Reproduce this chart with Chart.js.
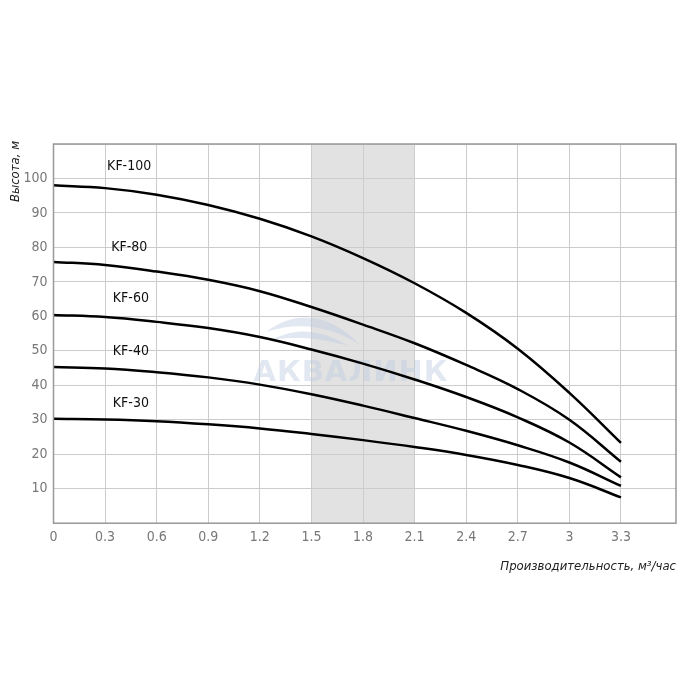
<!DOCTYPE html>
<html>
<head>
<meta charset="utf-8">
<script src="https://cdn.jsdelivr.net/npm/chart.js@4.4.1/dist/chart.umd.min.js"></script>
<style>
  html, body { margin: 0; padding: 0; background: #fff; }
  #wrap { width: 700px; height: 700px; }
</style>
</head>
<body>
<div id="wrap"><canvas id="myChart" width="700" height="700"></canvas></div>
<script>
// flow, m3/h
const flow = [0, 0.3, 0.6, 0.9, 1.2, 1.5, 1.8, 2.1, 2.4, 2.7, 3.0, 3.3];
const xTicks = [0, 0.3, 0.6, 0.9, 1.2, 1.5, 1.8, 2.1, 2.4, 2.7, 3, 3.3];
const yTicks = [10, 20, 30, 40, 50, 60, 70, 80, 90, 100];

// head, m
const names = ['KF-100', 'KF-80', 'KF-60', 'KF-40', 'KF-30'];
const kf100 = [98, 97.2, 95.3, 92.3, 88.3, 83.2, 76.9, 69.6, 61.0, 50.6, 37.8, 23.3];
const kf80 = [75.8, 74.9, 73.0, 70.6, 67.3, 62.7, 57.6, 52.2, 45.9, 38.9, 30.0, 17.8];
const kf60 = [60.4, 59.8, 58.4, 56.6, 54.0, 50.4, 46.3, 41.7, 36.6, 30.7, 23.4, 13.3];
const kf40 = [45.3, 44.9, 43.8, 42.3, 40.2, 37.4, 34.1, 30.5, 26.8, 22.6, 17.6, 10.8];
const kf30 = [30.3, 30.1, 29.6, 28.7, 27.5, 25.9, 24.1, 22.1, 19.8, 16.9, 13.1, 7.5];

// shaded working range
const bandFrom = 1.5;
const bandTo = 2.1;

const font = '"Liberation Sans Narrow", "DejaVu Sans Condensed", sans-serif';

// curve labels: [x, y] in data units
const labelPos = [[0.44, 103.6], [0.44, 80.1], [0.45, 65.3], [0.45, 49.9], [0.45, 34.8]];

const allSeries = [kf100, kf80, kf60, kf40, kf30];

const decor = {
    id: 'decor',
    beforeDraw(chart) {
        const ctx = chart.ctx;
        const { top, bottom } = chart.chartArea;
        const x = chart.scales.x;
        ctx.save();
        ctx.fillStyle = '#fff';
        ctx.fillRect(0, 0, chart.width, chart.height);
        ctx.fillStyle = '#e2e2e2';
        const x1 = x.getPixelForValue(bandFrom);
        const x2 = x.getPixelForValue(bandTo);
        ctx.fillRect(x1, top, x2 - x1, bottom - top);
        ctx.restore();
    },
    beforeDatasetsDraw(chart) {
        const ctx = chart.ctx;
        ctx.save();
        // watermark
        ctx.fillStyle = 'rgba(190, 205, 225, 0.45)';
        ctx.beginPath();
        ctx.moveTo(266, 332);
        ctx.bezierCurveTo(300, 306, 335, 318, 360, 345);
        ctx.bezierCurveTo(335, 328, 300, 320, 266, 332);
        ctx.fill();
        ctx.beginPath();
        ctx.moveTo(272, 340);
        ctx.bezierCurveTo(300, 325, 325, 332, 348, 346);
        ctx.bezierCurveTo(320, 338, 296, 336, 272, 340);
        ctx.fill();
        ctx.font = 'bold 29px ' + '"DejaVu Sans", sans-serif';
        ctx.textAlign = 'center';
        ctx.textBaseline = 'middle';
        if (ctx.letterSpacing !== undefined) ctx.letterSpacing = '1px';
        ctx.fillText('АКВАЛИНК', 351, 373);
        ctx.restore();
    },
    afterDraw(chart) {
        const ctx = chart.ctx;
        const { left, right, top, bottom } = chart.chartArea;
        const x = chart.scales.x;
        const y = chart.scales.y;
        ctx.save();
        ctx.strokeStyle = '#999';
        ctx.lineWidth = 1.5;
        ctx.strokeRect(left, top, right - left, bottom - top);

        if (ctx.fontStretch !== undefined) ctx.fontStretch = 'condensed';
        ctx.fillStyle = '#111';
        ctx.font = '14px ' + font;
        ctx.textAlign = 'center';
        ctx.textBaseline = 'middle';
        names.forEach((n, i) => {
            ctx.fillText(n, x.getPixelForValue(labelPos[i][0]), y.getPixelForValue(labelPos[i][1]));
        });

        ctx.font = 'italic 13px ' + font;
        ctx.fillStyle = '#222';
        ctx.textAlign = 'right';
        ctx.fillText('Производительность, м³/час', right, 567);

        ctx.translate(16, 141);
        ctx.rotate(-Math.PI / 2);
        ctx.textAlign = 'right';
        ctx.fillText('Высота, м', 0, 0);
        ctx.restore();
    }
};

const ctx = document.getElementById('myChart').getContext('2d');
new Chart(ctx, {
    type: 'line',
    data: {
        datasets: names.map((n, i) => ({
            label: n,
            data: flow.map((f, j) => ({ x: f, y: allSeries[i][j] })),
            borderColor: '#000',
            borderWidth: 2.5,
            pointRadius: 0,
            tension: 0.4,
            fill: false
        }))
    },
    options: {
        responsive: false,
        animation: false,
        layout: { padding: { left: 0, right: 24, top: 144, bottom: 148 } },
        plugins: { legend: { display: false }, tooltip: { enabled: false } },
        scales: {
            x: {
                type: 'linear',
                min: 0,
                max: 3.62,
                afterBuildTicks: (s) => { s.ticks = xTicks.map(v => ({ value: v })); },
                ticks: {
                    color: '#777',
                    font: { family: font, size: 14 },
                    padding: 6,
                    maxRotation: 0,
                    autoSkip: false,
                    callback: (v) => String(v)
                },
                grid: { color: '#ccc', lineWidth: 1, drawTicks: false },
                border: { display: false }
            },
            y: {
                min: 0,
                max: 110,
                afterBuildTicks: (s) => { s.ticks = [0].concat(yTicks, [110]).map(v => ({ value: v })); },
                afterFit: (s) => { s.width = 53.5; },
                ticks: {
                    color: '#777',
                    font: { family: font, size: 14 },
                    padding: 6,
                    callback: (v) => yTicks.includes(v) ? String(v) : ''
                },
                grid: { color: '#ccc', lineWidth: 1, drawTicks: false },
                border: { display: false }
            }
        }
    },
    plugins: [decor]
});
</script>
</body>
</html>
